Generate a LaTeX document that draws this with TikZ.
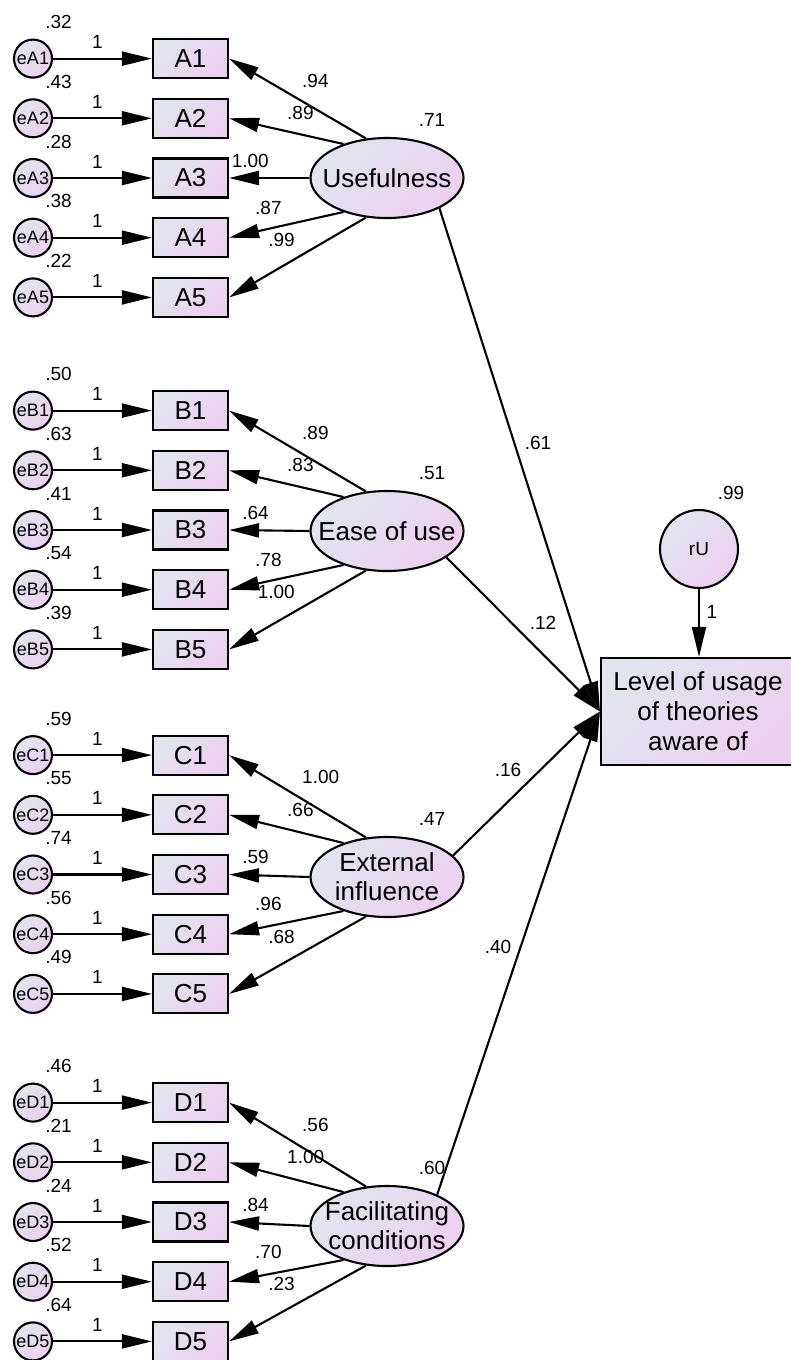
\documentclass[tikz,border=0pt]{standalone}
\usepackage{fontspec}
\setmainfont{Liberation Sans}
\usetikzlibrary{arrows.meta,shapes.geometric}
\definecolor{shadeA}{RGB}{225,229,238}
\definecolor{shadeB}{RGB}{236,208,240}
\tikzset{
  grad/.style={top color=shadeA, bottom color=shadeB, shading angle=45},
  errc/.style={circle, draw, line width=2.1pt, grad, minimum size=38pt, inner sep=0pt,
    font=\fontsize{18}{18}\selectfont},
  obs/.style={rectangle, draw, line width=2.1pt, grad, minimum width=75pt, minimum height=39pt,
    inner sep=0pt, font=\fontsize{26}{26}\selectfont},
  lat/.style={ellipse, draw, line width=2.1pt, grad, minimum width=153pt, minimum height=80pt,
    inner sep=0pt},
  lattext/.style={inner sep=0pt, align=center, font=\fontsize{26}{29}\selectfont},
  lbl/.style={inner sep=0pt, font=\fontsize{19}{19}\selectfont},
  regpath/.style={line width=2.1pt, -{Triangle[length=30pt,width=14pt]}},
}
% #1 indicator letter, #2 y of middle indicator, #3 y of latent factor,
% #4 factor name, #5 factor variance, #6 error variances, #7 loadings
\newcommand{\semblock}[7]{
  \node[lat] (lat#1) at (387,#3) {};
  \node[lattext] (name#1) at (lat#1.center) {#4};
  \node[lbl] (vlat#1) at (432,{#3-58}) {#5};
  \foreach \v [count=\i] in {#6} {
    \pgfmathsetmacro\ry{#2+(\i-3)*59.7}
    \node[errc] (e#1\i) at (33,\ry) {e#1\i};
    \node[obs] (#1\i) at (190.5,\ry) {#1\i};
    \draw[regpath] (e#1\i) -- (#1\i);
    \node[lbl] (one#1\i) at (97.5,{\ry-16.5}) {1};
    \node[lbl] (v#1\i) at (58.5,{\ry-36.5}) {\v};
  }
  \foreach \ld [count=\i] in {#7} {
    \pgfmathsetmacro\ang{{118,142,180,218,242}[\i-1]}
    \pgfmathsetmacro\lx{{302,287,269,255,295}[\i-1]}
    \pgfmathsetmacro\ldy{{-97.5,-65,-17.5,29.5,62}[\i-1]}
    \pgfmathtruncatemacro\side{{0,0,1,0,1}[\i-1]}
    \ifnum\side=1 \def\anc{east}\else\def\anc{west}\fi
    \draw[regpath] (lat#1.\ang) -- (#1\i.east);
    \node[lbl, anchor=\anc] (ld#1\i) at (\lx,{#2+(\ldy)}) {\ld};
  }
}
\begin{document}
\begin{tikzpicture}[x=1pt,y=-1pt]
\clip (0,0) rectangle (791,1360);

% measurement part: four factors with five indicators each
\semblock{A}{178}{178}{Usefulness}{.71}{.32,.43,.28,.38,.22}{.94,.89,1.00,.87,.99}
\semblock{B}{530}{531}{Ease of use}{.51}{.50,.63,.41,.54,.39}{.89,.83,.64,.78,1.00}
\semblock{C}{874.5}{877}{External\\influence}{.47}{.59,.55,.74,.56,.49}{1.00,.66,.59,.96,.68}
\semblock{D}{1222}{1226}{Facilitating\\conditions}{.60}{.46,.21,.24,.52,.64}{.56,1.00,.84,.70,.23}

% outcome and its residual
\node[obs, minimum width=194pt, minimum height=107pt, align=center,
  font=\fontsize{26}{30}\selectfont] (target) at (698,711.5)
  {Level of usage\\of theories\\aware of};
\node[errc, minimum size=78pt, font=\fontsize{19}{19}\selectfont] (rU) at (699,549) {rU};
\node[lbl] (vrU) at (731,493) {.99};
\draw[regpath] (rU.south) -- (rU.south |- target.north);
\node[lbl] (onerU) at (712,612) {1};

% structural paths
\draw[regpath] (latA.-30) -- (target.west);
\draw[regpath] (latB.-24) -- (target.west);
\draw[regpath] (latC.18) -- (target.west);
\draw[regpath] (latD.32) -- (target.west);
\node[lbl] (pA) at (538,443) {.61};
\node[lbl] (pB) at (543,623) {.12};
\node[lbl] (pC) at (508,770) {.16};
\node[lbl] (pD) at (498,947) {.40};
\end{tikzpicture}
\end{document}
